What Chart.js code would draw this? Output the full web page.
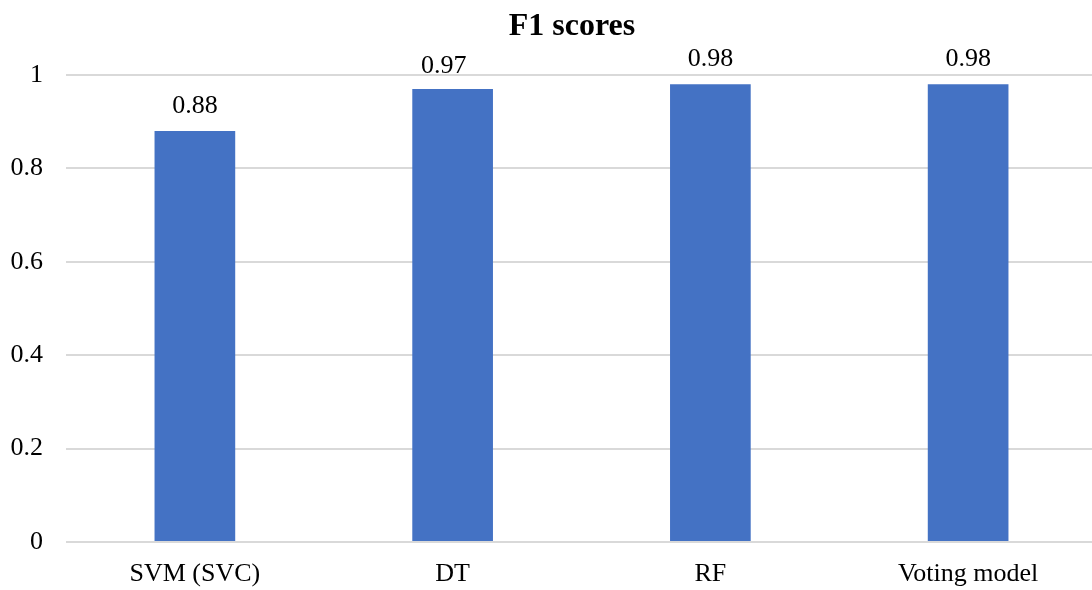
<!DOCTYPE html>
<html>
<head>
<meta charset="utf-8">
<script src="https://cdn.jsdelivr.net/npm/chart.js@4/dist/chart.umd.min.js"></script>
<style>
  html, body { margin: 0; padding: 0; background: #fff; overflow: hidden; }
  #wrap { position: relative; width: 1100px; height: 590px; }
</style>
</head>
<body>
<div id="wrap"><canvas id="chart"></canvas></div>
<script>
// Model names and their F1 scores
const categories = ['SVM (SVC)', 'DT', 'RF', 'Voting model'];
const f1Scores = [0.88, 0.97, 0.98, 0.98];
const yTicks = [0, 0.2, 0.4, 0.6, 0.8, 1];
const chartTitle = 'F1 scores';

const FONT = "'Liberation Serif', 'Times New Roman', serif";

// Per-label nudges (px) for the value labels; the DT label sits a bit left and lower
const labelNudgeX = [0, -9, 0, 0];
const labelNudgeY = [0, 2, 0, 0];

// Writes each bar's value just above it
const valueLabels = {
  id: 'valueLabels',
  afterDatasetsDraw(chart) {
    const ctx = chart.ctx;
    const meta = chart.getDatasetMeta(0);
    ctx.save();
    ctx.font = '26px ' + FONT;
    ctx.fillStyle = '#000';
    ctx.textAlign = 'center';
    ctx.textBaseline = 'alphabetic';
    meta.data.forEach((bar, i) => {
      const v = chart.data.datasets[0].data[i];
      ctx.fillText(String(v), bar.x + labelNudgeX[i], bar.y - 18 + labelNudgeY[i]);
    });
    ctx.restore();
  }
};

// Bold heading over the plot
const heading = {
  id: 'heading',
  afterDraw(chart) {
    const ctx = chart.ctx;
    ctx.save();
    ctx.font = 'bold 32px ' + FONT;
    ctx.fillStyle = '#000';
    ctx.textAlign = 'center';
    ctx.textBaseline = 'alphabetic';
    ctx.fillText(chartTitle, 572, 35);
    ctx.restore();
  }
};

new Chart(document.getElementById('chart'), {
  type: 'bar',
  data: {
    labels: categories,
    datasets: [{
      data: f1Scores,
      backgroundColor: '#4472C4',
      borderWidth: 0,
      barPercentage: 0.313,
      categoryPercentage: 1
    }]
  },
  options: {
    responsive: true,
    maintainAspectRatio: false,
    animation: false,
    layout: { padding: { top: 75, left: 10, right: 3, bottom: 2 } },
    plugins: {
      legend: { display: false },
      title: { display: false },
      tooltip: { enabled: false }
    },
    scales: {
      x: {
        grid: { display: false },
        border: { display: false },
        afterFit(axis) { axis.height = 46; },
        ticks: {
          color: '#000',
          font: { family: FONT, size: 26 },
          padding: 9,
          maxRotation: 0
        }
      },
      y: {
        min: 0,
        max: 1,
        afterBuildTicks(axis) { axis.ticks = yTicks.map(v => ({ value: v })); },
        afterFit(axis) { axis.width = 56; },
        grid: { color: '#d9d9d9', lineWidth: 2, drawTicks: false },
        border: { display: false },
        ticks: {
          color: '#000',
          font: { family: FONT, size: 26 },
          padding: 23,
          callback: v => String(v)
        }
      }
    }
  },
  plugins: [valueLabels, heading]
});
</script>
</body>
</html>
